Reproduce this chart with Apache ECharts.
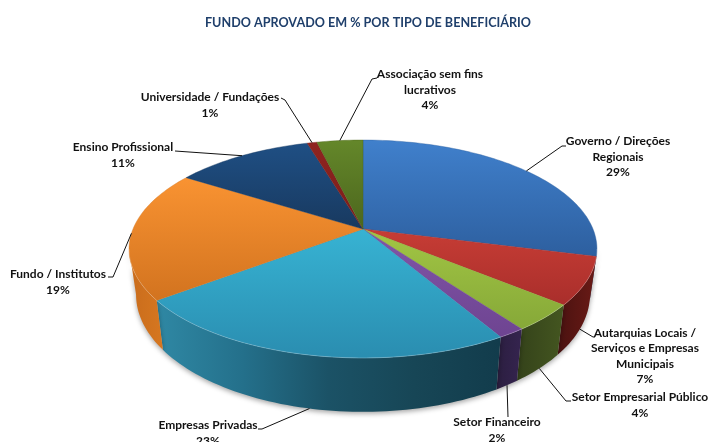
<!DOCTYPE html>
<html>
<head>
<meta charset="utf-8">
<style>
html, body { margin: 0; padding: 0; background: #fff; overflow: hidden; }
#main { width: 709px; height: 442px; }
</style>
<script src="https://cdn.jsdelivr.net/npm/echarts@6/dist/echarts.min.js"></script>
</head>
<body>
<div id="main"></div>
<script>
// dados
var beneficiarios = [
  'Governo / Direções\nRegionais',
  'Autarquias Locais /\nServiços e Empresas\nMunicipais',
  'Setor Empresarial Público',
  'Setor Financeiro',
  'Empresas Privadas',
  'Fundo / Institutos',
  'Ensino Profissional',
  'Universidade / Fundações',
  'Associação sem fins\nlucrativos'
];
var percentuais = [29, 7, 4, 1.6, 23.1, 19.3, 11.4, 0.8, 3.8];

// cores: topo [claro, escuro], parede da esquerda para a direita
var coresTopo = [
  ['#4080cc', '#2d5f9f'], ['#c73d35', '#a92e2b'], ['#a2c644', '#86a838'],
  ['#8155a8', '#6e4491'], ['#37b3d3', '#2a8db0'], ['#f99332', '#d2731f'],
  ['#1f4f84', '#18395f'], ['#8f2420', '#7a1d1a'], ['#64872a', '#4c661d']
];
var coresParede = [
  ['#24497a', '#24497a'], ['#4a1210', '#6a1a16'], ['#34421a', '#445620'],
  ['#2b1e40', '#35244f'], ['#2f88a4', '#24708b', '#1b5266', '#174656', '#123c4c'],
  ['#c96c1c', '#d67720'], ['#173a63', '#173a63'], ['#5c1512', '#5c1512'], ['#3d5418', '#3d5418']
];

// posicao dos rotulos [centro x, centro y] e cotovelos das linhas de chamada
var posRotulos = [
  [618, 157], [645, 356], [640, 405], [497, 430], [208, 433],
  [58, 282], [123, 155], [210, 105], [430, 90]
];
var cotovelos = [
  [[562, 146], [566, 146]], [[593, 337], [595, 337]], [[566, 401], [571, 401]],
  [[508, 417]], [[262, 429], [258, 429]], [[113, 277], [108, 277]],
  [[175, 151]], [[285, 100], [281, 98]], [[372, 79], [377, 78]]
];

// perspectiva da pizza
var cx = 363, cy = 229, R = 230, B = 105.3, D = 44, k = 0.1834, afina = 0.97;
var inicio = [];
var soma = 0;
percentuais.forEach(function (p) { inicio.push(soma); soma += p; });
var fatorAng = 2 * Math.PI / soma;
var angVisIni = Math.acos(-k), angVisFim = 2 * Math.PI - angVisIni;

function ponto(a, h) {
  var u = Math.sin(a), v = -Math.cos(a);
  var s = 1 / (1 - k * v);
  return [cx + R * u * s * (1 - (1 - afina) * h), cy + (B * v + D * h) * s];
}

function arco(a0, a1, h) {
  var pts = [], n = Math.max(2, Math.ceil((a1 - a0) * 40));
  for (var i = 0; i <= n; i++) pts.push(ponto(a0 + (a1 - a0) * i / n, h));
  return pts;
}

function grad(c, horizontal) {
  return new echarts.graphic.LinearGradient(0, 0, horizontal ? 1 : 0, horizontal ? 0 : 1, c.map(function (cor, j) {
    return { offset: j / (c.length - 1), color: cor };
  }));
}

function renderParede(params, api) {
  var i = params.dataIndex;
  var a0 = Math.max(inicio[i] * fatorAng, angVisIni);
  var a1 = Math.min((inicio[i] + api.value(0)) * fatorAng, angVisFim);
  if (a1 <= a0) return null;
  var pts = arco(a0, a1, 0).concat(arco(a0, a1, 1).reverse());
  return {
    type: 'polygon',
    shape: { points: pts },
    style: {
      fill: grad(coresParede[i], true),
      shadowBlur: 5, shadowColor: 'rgba(0,0,0,0.35)', shadowOffsetY: 2
    }
  };
}

function renderTopo(params, api) {
  var i = params.dataIndex;
  var a0 = inicio[i] * fatorAng, a1 = (inicio[i] + api.value(0)) * fatorAng;
  var filhos = [{
    type: 'polygon',
    shape: { points: [[cx, cy]].concat(arco(a0, a1, 0)) },
    style: { fill: grad(coresTopo[i], false), stroke: coresTopo[i][1], lineWidth: 0.4 }
  }];
  // brilho na borda da frente
  var b0 = Math.max(a0, angVisIni), b1 = Math.min(a1, angVisFim);
  if (b1 > b0) {
    filhos.push({
      type: 'polyline',
      shape: { points: arco(b0, b1, 0) },
      style: { fill: 'none', stroke: 'rgba(255,255,255,0.22)', lineWidth: 1 }
    });
  }
  return { type: 'group', children: filhos };
}

function renderRotulo(params, api) {
  var i = params.dataIndex;
  var meio = (inicio[i] + api.value(0) / 2) * fatorAng;
  var frente = Math.cos(meio) < 0 && Math.abs(Math.sin(meio)) < 0.98;
  var pts = [ponto(meio, frente ? 1 : 0)].concat(cotovelos[i]);
  return {
    type: 'group',
    children: [{
      type: 'polyline',
      shape: { points: pts },
      style: { fill: 'none', stroke: '#111', lineWidth: 1 }
    }, {
      type: 'text',
      style: {
        x: posRotulos[i][0], y: posRotulos[i][1],
        text: beneficiarios[i] + '\n' + Math.round(api.value(0)) + '%',
        align: 'center', verticalAlign: 'middle',
        font: 'bold 12px Lato', lineHeight: 15.5, fill: '#111'
      }
    }]
  };
}

var dados = percentuais.map(function (p, i) { return { name: beneficiarios[i], value: [p] }; });

var myChart = echarts.init(document.getElementById('main'));
var option = {
  animation: false,
  title: {
    text: 'FUNDO APROVADO EM % POR TIPO DE BENEFICIÁRIO',
    left: 363, textAlign: 'center', top: 11,
    textStyle: { fontFamily: 'Lato', fontWeight: 'bold', fontSize: 12.6, color: '#1f3f6b' }
  },
  series: [
    { type: 'custom', coordinateSystem: 'none', z: 1, data: dados, renderItem: renderParede },
    { type: 'custom', coordinateSystem: 'none', z: 2, data: dados, renderItem: renderTopo },
    { type: 'custom', coordinateSystem: 'none', z: 3, data: dados, renderItem: renderRotulo }
  ]
};
myChart.setOption(option);
</script>
</body>
</html>
